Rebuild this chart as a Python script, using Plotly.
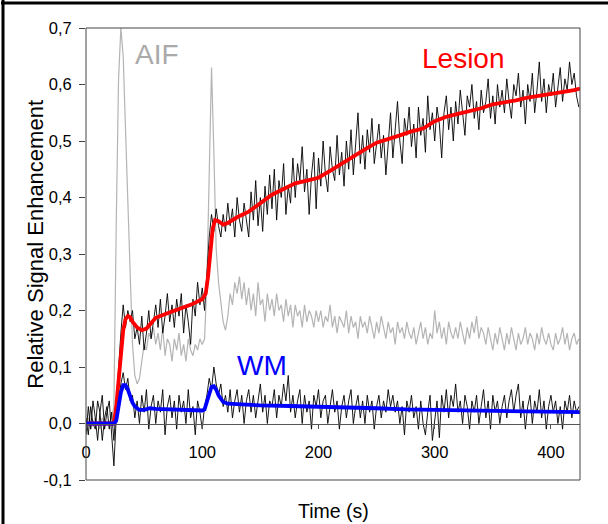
import plotly.graph_objects as go

# ---------------- data ----------------
T_RAW = [0, 2, 4, 6, 8, 10, 12, 14, 16, 18, 20, 22, 24, 26, 28, 30, 32, 34, 36, 38,
         40, 42, 44, 46, 48, 50, 52, 54, 56, 58, 60, 62, 64, 66, 68, 70, 72, 74, 76, 78,
         80, 82, 84, 86, 88, 90, 92, 94, 96, 98, 100, 102, 104, 106, 108, 110, 112, 114, 116, 118,
         120, 122, 124, 126, 128, 130, 132, 134, 136, 138, 140, 142, 144, 146, 148, 150, 152, 154, 156, 158,
         160, 162, 164, 166, 168, 170, 172, 174, 176, 178, 180, 182, 184, 186, 188, 190, 192, 194, 196, 198,
         200, 202, 204, 206, 208, 210, 212, 214, 216, 218, 220, 222, 224, 226, 228, 230, 232, 234, 236, 238,
         240, 242, 244, 246, 248, 250, 252, 254, 256, 258, 260, 262, 264, 266, 268, 270, 272, 274, 276, 278,
         280, 282, 284, 286, 288, 290, 292, 294, 296, 298, 300, 302, 304, 306, 308, 310, 312, 314, 316, 318,
         320, 322, 324, 326, 328, 330, 332, 334, 336, 338, 340, 342, 344, 346, 348, 350, 352, 354, 356, 358,
         360, 362, 364, 366, 368, 370, 372, 374, 376, 378, 380, 382, 384, 386, 388, 390, 392, 394, 396, 398,
         400, 402, 404, 406, 408, 410, 412, 414, 416, 418, 420, 422, 424]

AIF = [0.00, 0.01, -0.01, 0.00, 0.01, 0.00, -0.01, 0.01, 0.00, 0.00,
       0.00, 0.01, 0.03, 0.35, 0.61, 0.70, 0.65, 0.52, 0.38, 0.25,
       0.14, 0.085, 0.07, 0.08, 0.11, 0.14, 0.13, 0.16, 0.15, 0.17,
       0.14, 0.16, 0.13, 0.17, 0.12, 0.15, 0.14, 0.11, 0.15, 0.13,
       0.16, 0.12, 0.14, 0.11, 0.15, 0.13, 0.12, 0.14, 0.13, 0.15,
       0.14, 0.15, 0.25, 0.45, 0.63, 0.48, 0.31, 0.25, 0.21, 0.18,
       0.165, 0.19, 0.23, 0.21, 0.25, 0.23, 0.26, 0.22, 0.25, 0.21,
       0.24, 0.20, 0.23, 0.19, 0.25, 0.21, 0.22, 0.18, 0.23, 0.20,
       0.22, 0.19, 0.23, 0.20, 0.21, 0.18, 0.22, 0.19, 0.21, 0.17,
       0.21, 0.19, 0.20, 0.17, 0.21, 0.18, 0.20, 0.19, 0.17, 0.20,
       0.18, 0.20, 0.17, 0.19, 0.18, 0.21, 0.17, 0.19, 0.16, 0.19,
       0.18, 0.17, 0.20, 0.16, 0.19, 0.17, 0.18, 0.15, 0.19, 0.17,
       0.18, 0.16, 0.19, 0.17, 0.15, 0.18, 0.16, 0.19, 0.17, 0.15,
       0.18, 0.16, 0.17, 0.14, 0.18, 0.16, 0.17, 0.15, 0.18, 0.16,
       0.15, 0.17, 0.14, 0.16, 0.18, 0.15, 0.17, 0.14, 0.16, 0.15,
       0.20, 0.16, 0.18, 0.15, 0.17, 0.14, 0.18, 0.16, 0.15, 0.17,
       0.15, 0.18, 0.16, 0.14, 0.17, 0.15, 0.18, 0.16, 0.19, 0.15,
       0.17, 0.16, 0.14, 0.17, 0.15, 0.13, 0.16, 0.14, 0.17, 0.15,
       0.13, 0.16, 0.14, 0.17, 0.15, 0.13, 0.16, 0.14, 0.15, 0.17,
       0.14, 0.16, 0.15, 0.13, 0.16, 0.14, 0.17, 0.15, 0.14, 0.16,
       0.14, 0.13, 0.16, 0.14, 0.15, 0.17, 0.14, 0.16, 0.13, 0.15,
       0.16, 0.14, 0.15]

LESION_RAW = [0.01, -0.02, 0.03, 0.00, -0.01, 0.04, 0.02, -0.03, 0.01, 0.03,
              -0.01, 0.02, -0.03, 0.04, 0.10, 0.16, 0.21, 0.17, 0.20, 0.18,
              0.20, 0.15, 0.17, 0.14, 0.19, 0.13, 0.16, 0.20, 0.15, 0.18,
              0.21, 0.17, 0.22, 0.16, 0.19, 0.23, 0.18, 0.21, 0.17, 0.22,
              0.19, 0.23, 0.16, 0.21, 0.18, 0.14, 0.22, 0.19, 0.25, 0.21,
              0.24, 0.20, 0.27, 0.33, 0.37, 0.34, 0.38, 0.35, 0.33, 0.37,
              0.34, 0.39, 0.35, 0.38, 0.33, 0.40, 0.36, 0.34, 0.39, 0.36,
              0.33, 0.41, 0.36, 0.43, 0.35, 0.40, 0.34, 0.42, 0.37, 0.44,
              0.38, 0.45, 0.36, 0.43, 0.40, 0.46, 0.37, 0.42, 0.39, 0.47,
              0.40, 0.46, 0.43, 0.49, 0.41, 0.45, 0.37, 0.44, 0.48, 0.38,
              0.47, 0.42, 0.50, 0.44, 0.41, 0.49, 0.45, 0.43, 0.51, 0.44,
              0.48, 0.42, 0.50, 0.45, 0.52, 0.44, 0.49, 0.55, 0.46, 0.51,
              0.45, 0.52, 0.48, 0.54, 0.46, 0.50, 0.53, 0.47, 0.51, 0.44,
              0.49, 0.55, 0.47, 0.52, 0.57, 0.50, 0.46, 0.54, 0.51, 0.56,
              0.49, 0.53, 0.47, 0.56, 0.51, 0.54, 0.48, 0.58, 0.52, 0.55,
              0.50, 0.56, 0.53, 0.47, 0.55, 0.58, 0.52, 0.56, 0.50, 0.57,
              0.53, 0.59, 0.55, 0.51, 0.58, 0.56, 0.60, 0.54, 0.57, 0.52,
              0.59, 0.55, 0.57, 0.61, 0.54, 0.58, 0.53, 0.60, 0.56, 0.59,
              0.55, 0.61, 0.57, 0.54, 0.60, 0.58, 0.62, 0.56, 0.59, 0.53,
              0.60, 0.57, 0.62, 0.55, 0.59, 0.64, 0.57, 0.61, 0.55, 0.60,
              0.58, 0.62, 0.56, 0.60, 0.63, 0.57, 0.61, 0.59, 0.64, 0.60,
              0.62, 0.58, 0.56]

WM_RAW = [-0.02, 0.03, -0.01, 0.04, 0.01, -0.03, 0.02, 0.05, -0.01, 0.02,
          0.04, -0.02, -0.075, 0.01, 0.04, 0.07, 0.09, 0.06, 0.08, 0.04,
          0.05, 0.01, 0.04, 0.00, 0.05, 0.02, 0.06, -0.01, 0.03, 0.05,
          0.00, 0.04, 0.02, 0.06, -0.02, 0.03, 0.05, 0.01, 0.04, -0.01,
          0.05, 0.02, 0.04, 0.00, 0.06, 0.01, 0.03, -0.02, 0.04, 0.02,
          -0.01, 0.03, 0.05, 0.08, 0.06, 0.10, 0.07, 0.05, 0.07, 0.03,
          0.05, 0.02, 0.06, 0.01, 0.04, 0.06, 0.02, 0.05, 0.00, 0.04,
          0.06, 0.02, 0.05, 0.01, 0.04, 0.07, 0.02, 0.05, 0.00, 0.04,
          0.03, 0.06, 0.01, 0.05, 0.03, 0.07, 0.04, 0.085, 0.02, 0.05,
          0.01, 0.04, 0.06, 0.00, 0.05, 0.02, 0.04, -0.01, 0.05, 0.03,
          0.06, 0.01, 0.04, 0.05, 0.00, 0.03, 0.06, 0.02, 0.04, -0.01,
          0.03, 0.05, 0.01, 0.04, 0.06, 0.00, 0.03, 0.05, 0.01, 0.04,
          0.00, 0.05, 0.02, 0.04, -0.01, 0.03, 0.05, 0.01, 0.04, 0.02,
          0.06, 0.03, 0.05, 0.02, 0.04, 0.00, 0.03, -0.02, 0.04, 0.02,
          0.05, 0.01, 0.03, -0.01, 0.04, 0.00, -0.02, 0.02, 0.05, -0.03,
          0.01, 0.04, -0.025, 0.05, 0.02, 0.06, 0.01, 0.05, 0.03, 0.07,
          0.02, 0.04, 0.00, 0.05, 0.03, -0.01, 0.04, 0.02, 0.05, 0.00,
          0.03, 0.06, 0.01, 0.04, -0.01, 0.05, 0.02, 0.04, 0.00, 0.03,
          0.05, 0.01, 0.04, 0.06, 0.02, 0.05, 0.07, 0.01, 0.04, -0.01,
          0.03, 0.05, 0.00, 0.04, 0.02, 0.06, 0.01, 0.04, -0.01, 0.03,
          0.05, 0.02, 0.04, 0.00, 0.03, -0.01, 0.04, 0.02, 0.05, 0.01,
          0.04, 0.02, 0.03]

LESION_FIT_T = [0, 20, 24, 26, 28, 30, 32, 34, 36, 38,
                40, 44, 48, 52, 56, 60, 70, 80, 90, 100,
                103, 105, 107, 109, 111, 114, 118, 122, 126, 130,
                140, 150, 160, 170, 180, 190, 200, 210, 220, 230,
                240, 250, 260, 270, 280, 290, 300, 310, 320, 330,
                340, 350, 360, 370, 380, 390, 400, 410, 420, 425]
LESION_FIT = [0, 0, 0.0, 0.03, 0.08, 0.13, 0.165, 0.185, 0.19, 0.188,
              0.18, 0.17, 0.165, 0.168, 0.178, 0.187, 0.195, 0.202, 0.21, 0.22,
              0.23, 0.26, 0.31, 0.345, 0.36, 0.358, 0.352, 0.355, 0.36, 0.365,
              0.375, 0.39, 0.405, 0.415, 0.425, 0.43, 0.435, 0.447, 0.46, 0.472,
              0.485, 0.497, 0.503, 0.51, 0.517, 0.522, 0.535, 0.543, 0.548, 0.553,
              0.558, 0.565, 0.568, 0.572, 0.577, 0.58, 0.583, 0.587, 0.59, 0.593]

WM_FIT_T = [0, 24, 26, 28, 30, 32, 34, 36, 38, 40,
            42, 44, 46, 50, 55, 60, 70, 80, 90, 100,
            102, 104, 106, 108, 110, 112, 114, 116, 118, 122,
            130, 150, 175, 200, 225, 250, 275, 300, 325, 350,
            375, 400, 425]
WM_FIT = [0, 0, 0.005, 0.03, 0.055, 0.068, 0.068, 0.06, 0.048, 0.037,
          0.03, 0.026, 0.024, 0.024, 0.027, 0.026, 0.025, 0.024, 0.023, 0.023,
          0.025, 0.04, 0.055, 0.065, 0.066, 0.06, 0.05, 0.043, 0.038, 0.035,
          0.034, 0.032, 0.031, 0.03, 0.028, 0.027, 0.025, 0.024, 0.023, 0.022,
          0.021, 0.021, 0.02]

X_TICKS = [0, 100, 200, 300, 400]
X_TICK_LABELS = ["0", "100", "200", "300", "400"]
Y_TICKS = [-0.1, 0.0, 0.1, 0.2, 0.3, 0.4, 0.5, 0.6, 0.7]
Y_TICK_LABELS = ["-0,1", "0,0", "0,1", "0,2", "0,3", "0,4", "0,5", "0,6", "0,7"]

# ---------------- figure ----------------
FONT = "Liberation Sans, Arial, sans-serif"
fig = go.Figure()
fig.add_trace(go.Scatter(x=T_RAW, y=AIF, mode="lines", line=dict(color="#b4b4b4", width=1.2), name="AIF"))
fig.add_trace(go.Scatter(x=T_RAW, y=LESION_RAW, mode="lines", line=dict(color="black", width=0.9), name="Lesion raw"))
fig.add_trace(go.Scatter(x=T_RAW, y=WM_RAW, mode="lines", line=dict(color="black", width=0.9), name="WM raw"))
fig.add_trace(go.Scatter(x=LESION_FIT_T, y=LESION_FIT, mode="lines", line=dict(color="#ff0000", width=3.8), name="Lesion"))
fig.add_trace(go.Scatter(x=WM_FIT_T, y=WM_FIT, mode="lines", line=dict(color="#0000ff", width=3.8), name="WM"))

fig.update_layout(
    width=608, height=524,
    margin=dict(l=86, r=28, t=28, b=44),
    paper_bgcolor="white", plot_bgcolor="white",
    showlegend=False,
    font=dict(family=FONT, color="black"),
    xaxis=dict(range=[0, 425], anchor="free", position=0.125,
               showline=True, linecolor="#555555", linewidth=1,
               ticks="outside", ticklen=4, tickcolor="#555555",
               tickvals=X_TICKS, ticktext=X_TICK_LABELS,
               tickfont=dict(size=16.5, family=FONT, color="black"),
               ticklabelstandoff=10,
               showgrid=False, zeroline=False),
    yaxis=dict(range=[-0.1, 0.7], showline=False,
               ticks="outside", ticklen=6, tickcolor="#444444",
               tickvals=Y_TICKS, ticktext=Y_TICK_LABELS,
               tickfont=dict(size=16.5, family=FONT, color="black"),
               ticklabelstandoff=4,
               showgrid=False, zeroline=False),
    shapes=[
        dict(type="rect", xref="paper", yref="paper", x0=0, x1=1, y0=0, y1=1,
             line=dict(color="#444444", width=1)),
        dict(type="line", xref="paper", yref="paper", x0=-0.168, x1=-0.168, y0=-0.1, y1=1.063,
             line=dict(color="black", width=3), layer="above"),
        dict(type="line", xref="paper", yref="paper", x0=-0.172, x1=1.06, y0=1.0553, y1=1.0553,
             line=dict(color="black", width=3), layer="above"),
    ],
    annotations=[
        dict(text="AIF", x=61, y=0.653, xref="x", yref="y", showarrow=False,
             xanchor="center", yanchor="middle",
             font=dict(size=28, color="#aaaaaa", family=FONT)),
        dict(text="Lesion", x=325, y=0.646, xref="x", yref="y", showarrow=False,
             xanchor="center", yanchor="middle",
             font=dict(size=28, color="#ff0000", family=FONT)),
        dict(text="WM", x=151, y=0.103, xref="x", yref="y", showarrow=False,
             xanchor="center", yanchor="middle",
             font=dict(size=28, color="#0000ff", family=FONT)),
        dict(text="Relative Signal Enhancement", x=-0.103, y=0.521, xref="paper", yref="paper",
             xanchor="center", yanchor="middle",
             showarrow=False, textangle=-90, font=dict(size=22, family=FONT, color="black")),
        dict(text="Time (s)", x=0.502, y=-0.069, xref="paper", yref="paper",
             xanchor="center", yanchor="middle",
             showarrow=False, font=dict(size=19.5, family=FONT, color="black")),
    ],
)

fig.write_html("out.html", config={"displayModeBar": False},
               post_script="document.body.style.margin='0';document.body.style.overflow='hidden';")
